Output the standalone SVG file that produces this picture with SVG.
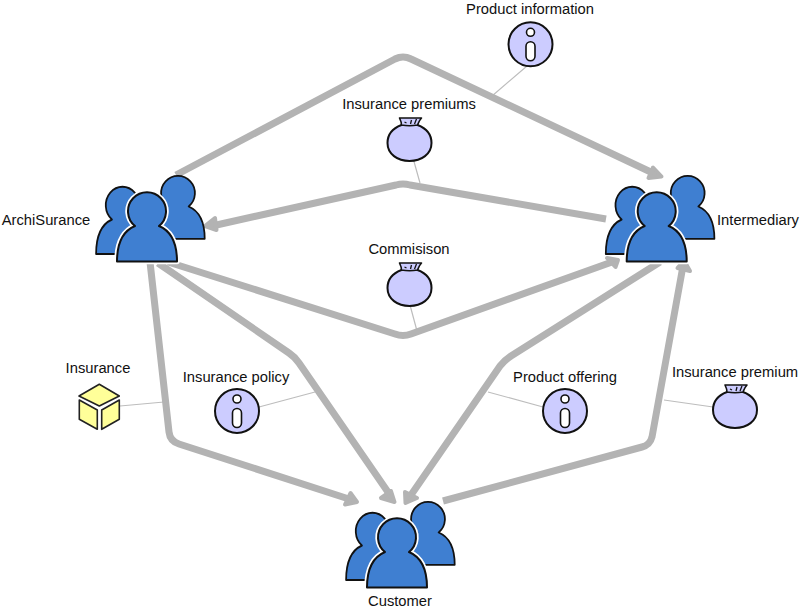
<svg xmlns="http://www.w3.org/2000/svg" width="800" height="611" viewBox="0 0 800 611">
<style>
.c{fill:none;stroke:#b3b3b3;stroke-width:7;stroke-linejoin:round}
.a{fill:#b3b3b3;stroke:#b3b3b3;stroke-width:4;stroke-linejoin:round}
.l{fill:none;stroke:#bdbdbd;stroke-width:1.2}
.p{fill:#3f7fd1;stroke:#111;stroke-width:2;stroke-linejoin:round}
.h{fill:#3f7fd1;stroke:#fff;stroke-width:5.500;stroke-linejoin:round}
.i{fill:#ccccff;stroke:#111;stroke-width:2}
.y{fill:#ffff99;stroke:#222;stroke-width:1.600;stroke-linejoin:round}
text{font-family:"Liberation Sans",Arial,sans-serif;font-size:14.750px;fill:#111;text-anchor:middle}
</style>
<defs>
<path id="fig" d="M-12 33A19 19 0 1 1 12 33C24 38 30 49 30 68.500L-30 68.500C-30 49-24 38-12 33Z"/>
<g id="actor">
<use href="#fig" class="p" transform="translate(-24.500 -5.500) scale(.88 .97)"/>
<use href="#fig" class="p" transform="translate(31 -16.500) scale(.89 .91)"/>
<use href="#fig" class="h"/>
<use href="#fig" class="p"/>
</g>
<g id="info">
<circle r="22" class="i"/>
<circle cy="-12" r="4" fill="#fff" stroke="#111" stroke-width="1.600"/>
<rect x="-4.500" y="-2.500" width="9" height="19" rx="4.500" fill="#fff" stroke="#111" stroke-width="1.600"/>
</g>
<g id="bag">
<path class="i" d="M-8 7C-16 10-22 16-22 25C-22 36-12 43 0 43C12 43 22 36 22 25C22 16 16 10 8 7Z"/>
<path d="M-8 7C-8 5-9 2-10 0L12 0C10 2 9 5 8 7C3 8-3 8-8 7Z" fill="#ccccff" stroke="#111" stroke-width="1.600" stroke-linejoin="round"/>
<path d="M-5 4L-3 5M2 2L1 6M7 1L5 6" stroke="#111" stroke-width="1.300" fill="none"/>
</g>
</defs>
<g id="connectors">
<path class="l" d="M527 66L492 96M413 158L420 183M410 305L417 331M120 406L164 402M259 407L315 392M543 407L488 392M713 407L664 400"/>
<path class="c" d="M176 175L395 59Q403 55 411 59L655 174"/>
<path class="a" d="M661.500 176.500L653 167.500L648.500 178Z"/>
<path class="c" d="M606 219L410 185Q403 183 396 185L212 226"/>
<path class="a" d="M205 226L215 218L216.500 230Z"/>
<path class="c" d="M168 262L395 334Q403 337 411 334L612 262"/>
<path class="a" d="M618 260L607 258L615.500 267Z"/>
<path class="c" d="M150 262L169 432Q170 441 179 444L352 500"/>
<path class="a" d="M357 502L350.500 493L345 504.500Z"/>
<path class="c" d="M158 263L289 353Q295 357 299 363L390 495"/>
<path class="a" d="M394.500 502L391 491L381 498Z"/>
<path class="c" d="M660 262L511 356Q505 360 500 366L411 495"/>
<path class="a" d="M405.500 503L405 492L417 498Z"/>
<path class="c" d="M443 501L642 447Q650 445 652 437L683 266"/>
<path class="a" d="M684 260.500L677.500 268L690 271Z"/>
</g>
<g id="ArchiSurance"><use href="#actor" x="147" y="193"/><text x="46" y="225">ArchiSurance</text></g>
<g id="Intermediary"><use href="#actor" x="656.700" y="193"/><text x="758" y="225">Intermediary</text></g>
<g id="Customer"><use href="#actor" x="397" y="519"/><text x="400" y="606">Customer</text></g>
<g id="Product-information"><use href="#info" x="530.500" y="44.300"/><text x="530" y="14">Product information</text></g>
<g id="Insurance-premiums"><use href="#bag" x="409.500" y="118"/><text x="409" y="109">Insurance premiums</text></g>
<g id="Commisison"><use href="#bag" x="409.500" y="263"/><text x="409" y="254">Commisison</text></g>
<g id="Insurance"><path class="y" d="M99.300 384.300L119.300 396L99.300 406L79 396Z"/><path class="y" d="M79.300 400L97.300 410V429.300L79.300 419.300Z"/><path class="y" d="M101.700 410L119.300 400V419.300L101.700 429.300Z"/><text x="98" y="373">Insurance</text></g>
<g id="Insurance-policy"><use href="#info" x="237" y="411"/><text x="236" y="382">Insurance policy</text></g>
<g id="Product-offering"><use href="#info" x="565" y="411"/><text x="565" y="382">Product offering</text></g>
<g id="Insurance-premium"><use href="#bag" x="735" y="385"/><text x="735" y="377">Insurance premium</text></g>
</svg>
